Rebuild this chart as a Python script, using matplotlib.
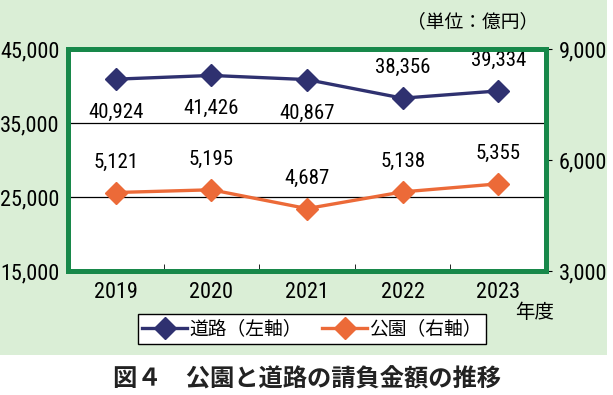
import matplotlib
matplotlib.use("Agg")
import matplotlib.pyplot as plt
from matplotlib.patches import Rectangle

# data
years = ["2019", "2020", "2021", "2022", "2023"]
road = [40924, 41426, 40867, 38356, 39334]   # 道路（左軸）
park = [5121, 5195, 4687, 5138, 5355]        # 公園（右軸）

left_ticks = [15000, 25000, 35000, 45000]
right_ticks = [3000, 6000, 9000]

JP = ["Noto Sans CJK JP", "DejaVu Sans"]
NUM = ["Liberation Sans Narrow", "Arial Narrow", "Roboto Condensed",
       "Archivo Narrow", "Liberation Sans"]
navy = "#2f3170"
orange = "#ec6a38"
green = "#17884a"
bg = "#daeed6"

fig = plt.figure(figsize=(6.13, 3.95), dpi=100)
fig.patches.append(Rectangle((0, 40 / 395), 607 / 613, 1, transform=fig.transFigure,
                             facecolor=bg, edgecolor="none", zorder=-10))

ax = fig.add_axes([68 / 613, 1 - 271 / 395, (546 - 68) / 613, (271 - 49) / 395])
ax.set_facecolor("white")
x = list(range(len(years)))
ax.set_xlim(-0.5, len(years) - 0.5)
ax.set_ylim(15000, 45000)
for v in [25000, 35000]:
    ax.axhline(v, color="black", lw=0.9, zorder=1)

ax.plot(x, road, color=navy, lw=2.4, marker="D", ms=11.5, zorder=3)
ax2 = ax.twinx()
ax2.set_ylim(3000, 9000)
ax2.plot(x, park, color=orange, lw=2.4, marker="D", ms=11.5, zorder=3)

# data labels
for i, v in enumerate(road):
    dy = -24 if i < 3 else 22
    ax.annotate(f"{v:,}", (i, v), xytext=(0, dy), textcoords="offset points",
                ha="center", va="center", fontsize=15, family=NUM)
for i, v in enumerate(park):
    ax2.annotate(f"{v:,}", (i, v), xytext=(0, 22), textcoords="offset points",
                 ha="center", va="center", fontsize=15, family=NUM)

ax.set_yticks(left_ticks)
ax.set_yticklabels([f"{t:,}" for t in left_ticks], family=NUM, fontsize=16)
ax.tick_params(axis="y", length=0, pad=6)
ax2.set_yticks(right_ticks)
ax2.set_yticklabels([f"{t:,}" for t in right_ticks], family=NUM, fontsize=16)
ax2.tick_params(axis="y", length=4, pad=5, direction="out")

ax.set_xticks([i + 0.5 for i in x[:-1]], minor=True)
ax.set_xticks(x)
ax.set_xticklabels(years, family=NUM, fontsize=16)
ax.tick_params(axis="x", which="major", length=0, pad=8)
ax.tick_params(axis="x", which="minor", length=5, direction="in", color="black")

for a in (ax, ax2):
    for s in a.spines.values():
        s.set_color(green)
        s.set_linewidth(3.5)

fig.text(538 / 613, 1 - 22 / 395, "（単位：億円）", ha="right", va="center",
         fontsize=13.5, family=JP)
fig.text(535 / 613, 1 - 313 / 395, "年度", ha="center", va="center",
         fontsize=14, family=JP)

h1, = ax.plot([], [], color=navy, lw=2.4, marker="D", ms=11)
h2, = ax.plot([], [], color=orange, lw=2.4, marker="D", ms=11)
leg = fig.legend([h1, h2], ["道路（左軸）", "公園（右軸）"], loc="center",
                 bbox_to_anchor=(312 / 613, 1 - 329 / 395), ncol=2,
                 prop={"family": JP, "size": 13.5}, frameon=True, fancybox=False,
                 edgecolor="black", facecolor="white", framealpha=1,
                 handlelength=2.4, handletextpad=0.1, columnspacing=1.1,
                 borderpad=0.25)
leg.get_frame().set_linewidth(1.0)

fig.text(307 / 613, 1 - 380 / 395, "図４　公園と道路の請負金額の推移", ha="center",
         va="center", fontsize=17.5, fontweight="bold", family=JP, color="#222222")

fig.savefig("out.png", dpi=100)
